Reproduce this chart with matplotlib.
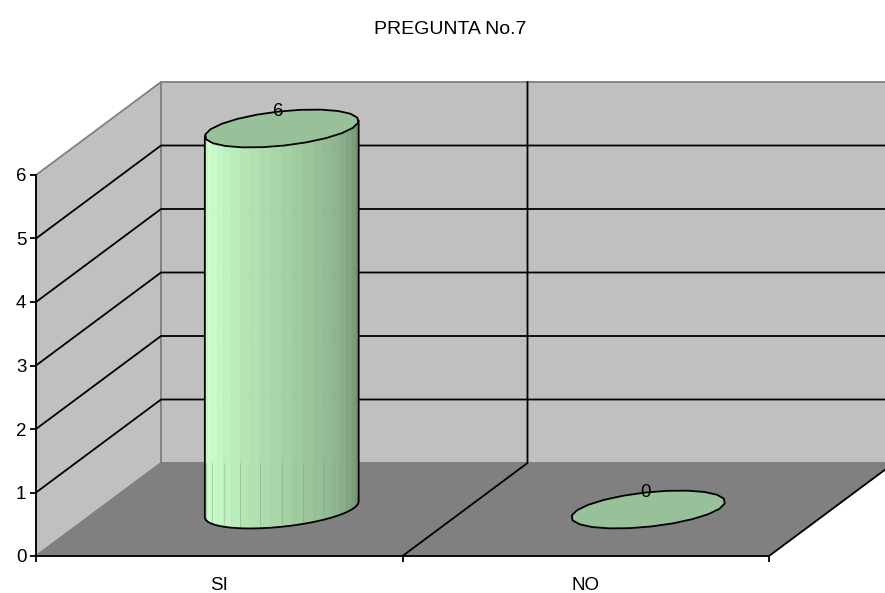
import numpy as np
import matplotlib
matplotlib.use("Agg")
import matplotlib.pyplot as plt
from matplotlib.colors import LinearSegmentedColormap

plt.rcParams['font.family'] = ['Liberation Sans', 'DejaVu Sans']

# Data
categorias = ["SI", "NO"]
valores = [6, 0]
y_ticks = [0, 1, 2, 3, 4, 5, 6]

# Geometry of the fake 3D box, in pixels of the 885x593 picture
W, H = 885, 593
LEFT, RIGHT, BOTTOM, TOP = 36, 769, 556, 175
px_x = 2 / (RIGHT - LEFT)
px_y = 6 / (BOTTOM - TOP)
DX = 125 * px_x   # depth of the box
DY = 93 * px_y
BACK_RIGHT = DX + 2
FS = 13.5

fig = plt.figure(figsize=(W / 100, H / 100), dpi=100)
ax = fig.add_axes([LEFT / W, (H - BOTTOM) / H, (RIGHT - LEFT) / W, (BOTTOM - TOP) / H])
ax.set_xlim(0, 2)
ax.set_ylim(0, 6)
ax.patch.set_alpha(0)
for s in ["top", "right"]:
    ax.spines[s].set_visible(False)
for s in ["left", "bottom"]:
    ax.spines[s].set_linewidth(1.3)
    ax.spines[s].set_zorder(6)

# walls and floor
GRIS = "#C0C0C0"
BORDE = "#808080"
ax.fill([0, DX, DX, 0], [0, DY, 6 + DY, 6], facecolor=GRIS, edgecolor=BORDE, lw=1.3, zorder=1, clip_on=False)
ax.fill([DX, BACK_RIGHT, BACK_RIGHT, DX], [DY, DY, 6 + DY, 6 + DY], facecolor=GRIS, edgecolor=BORDE, lw=1.3, zorder=1, clip_on=False)
ax.fill([0, 2, BACK_RIGHT, DX], [0, 0, DY, DY], facecolor=BORDE, edgecolor=BORDE, lw=1, zorder=2, clip_on=False)
ax.plot([2, BACK_RIGHT], [0, DY], color="black", lw=1.3, zorder=3, clip_on=False)

# grid
for v in y_ticks[1:-1]:
    ax.plot([0, DX, BACK_RIGHT], [v, v + DY, v + DY], color="black", lw=1.3, zorder=3, clip_on=False)
ax.plot([1, 1 + DX, 1 + DX], [0, DY, 6 + DY], color="black", lw=1.3, zorder=3, clip_on=False)

# cylinders
U = np.array([76.5 * px_x, 6 * px_y])
V = np.array([8 * px_x, 18 * px_y])
cmap = LinearSegmentedColormap.from_list("cil", [(0, "#BDEEBD"), (0.1, "#CCFFCC"), (0.5, "#A6D3A6"), (0.8, "#8CB08C"), (1, "#6E8C6E")])


def elipse(cx, cy, t):
    return cx + U[0] * np.cos(t) + V[0] * np.sin(t), cy + U[1] * np.cos(t) + V[1] * np.sin(t)


t_der = np.arctan2(V[0], U[0])
t_izq = t_der + np.pi
aro = np.linspace(0, 2 * np.pi, 23)
for i, val in enumerate(valores):
    cx = i + 0.5 + DX / 2
    cy = DY / 2
    if val > 0:
        ts = np.linspace(t_izq, t_der + 2 * np.pi, 23)
        xb, yb = elipse(cx, cy, ts)
        n = len(ts) - 1
        for j in range(n):
            c = cmap(j / (n - 1))
            ax.fill([xb[j], xb[j + 1], xb[j + 1], xb[j]], [yb[j], yb[j + 1], yb[j + 1] + val, yb[j] + val],
                    facecolor=c, edgecolor=c, lw=0.4, zorder=4, clip_on=False)
            if j % 2 == 1:
                # faint seams above the lower edge
                ax.plot([xb[j], xb[j]], [yb[j], DY], color="#7F9F7F", lw=0.6, alpha=0.5, zorder=4)
        ax.plot(np.r_[xb[0], xb[0], xb, xb[-1]], np.r_[yb[0] + val, yb[0], yb, yb[-1] + val], color="black", lw=1.3, zorder=5, clip_on=False)
    xt, yt = elipse(cx, cy + val, aro)
    ax.fill(xt, yt, facecolor="#99C199", edgecolor="black", lw=1.3, joinstyle="round", zorder=5, clip_on=False)
    ax.text(cx - 3 * px_x, cy + val + 17 * px_y, str(val), ha="center", va="center", fontsize=FS, color="black", zorder=7, clip_on=False)

# axes
ax.set_yticks(y_ticks)
ax.set_xticks([0, 1, 2])
ax.set_xticklabels([])
ax.set_xticks([0.5, 1.5], minor=True)
ax.set_xticklabels(categorias, minor=True, fontsize=FS)
ax.tick_params(axis="x", which="major", length=4, width=1.3, zorder=6)
ax.tick_params(axis="x", which="minor", length=0, pad=15)
ax.tick_params(axis="y", length=4, width=1.3, labelsize=FS, pad=3)

fig.text(450 / W, 1 - 29.5 / H, "PREGUNTA No.7", ha="center", va="center", fontsize=14)

fig.savefig("out.png", dpi=100)
